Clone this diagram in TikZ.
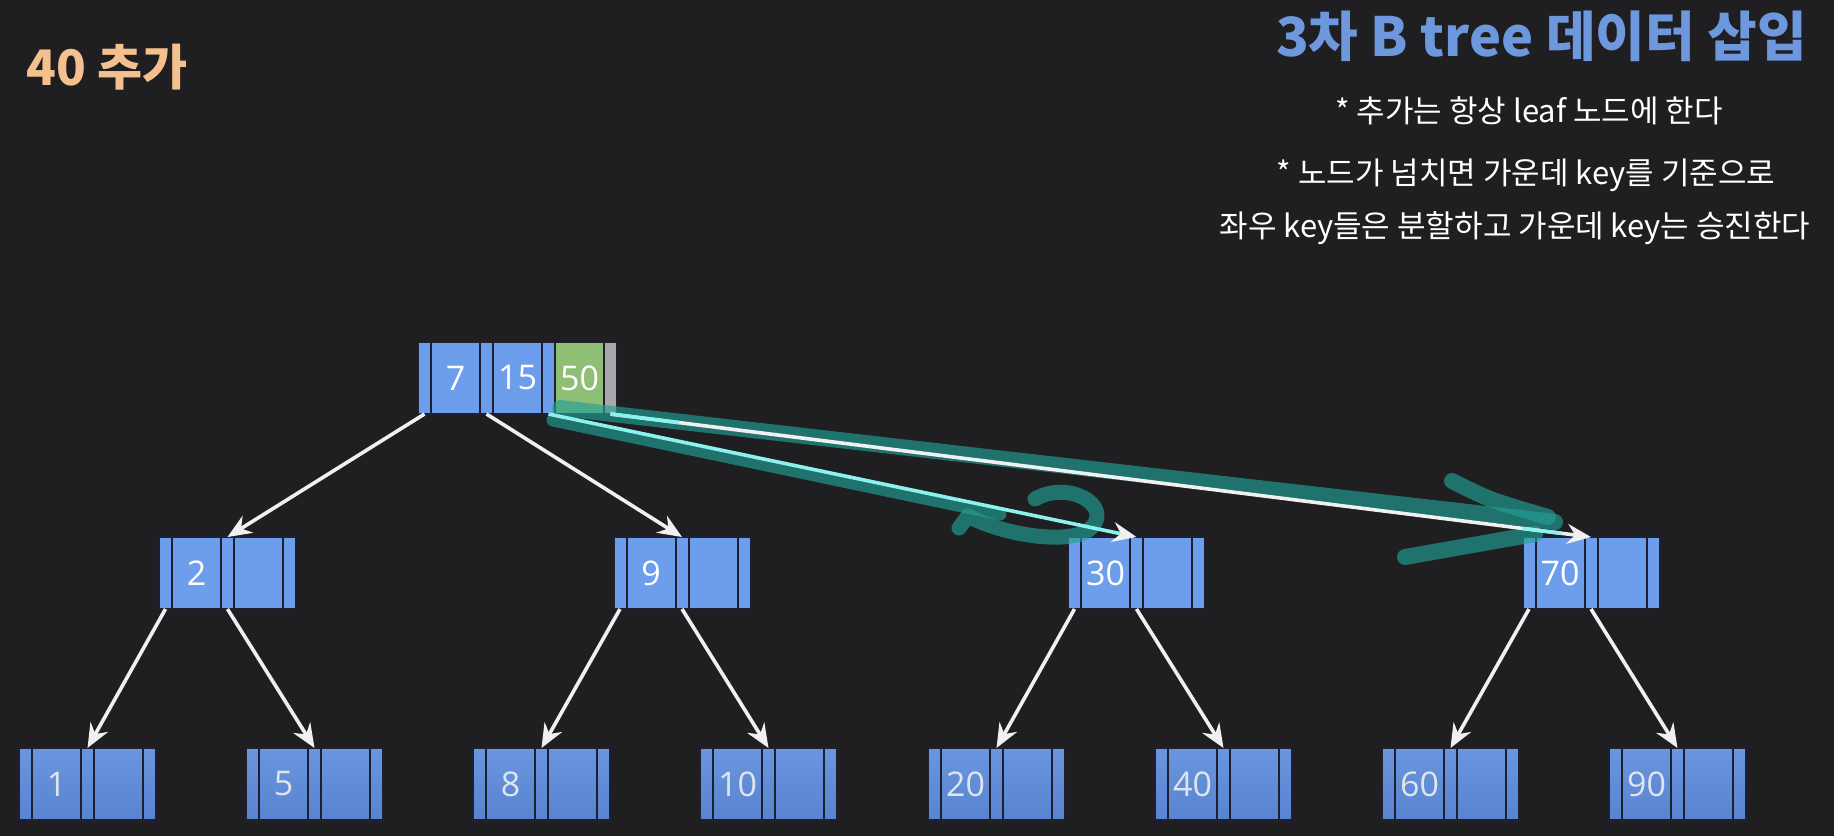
\documentclass[tikz,border=0pt]{standalone}
\usepackage{fontspec}
\setmainfont{Open Sans}
\newfontfamily\kr{Noto Sans CJK KR}
\usetikzlibrary{arrows.meta,calc}
\definecolor{bg}{HTML}{1F1E21}
\definecolor{nodeblue}{HTML}{6D9EEB}
\definecolor{leaftop}{HTML}{6A96DF}
\definecolor{leafbot}{HTML}{5883CF}
\definecolor{celledge}{HTML}{1E2030}
\definecolor{greencell}{HTML}{8FBF74}
\definecolor{graycell}{HTML}{A9A9A9}
\definecolor{tealc}{HTML}{22A096}
\definecolor{cyanl}{HTML}{8CF2EE}
\definecolor{titleblue}{HTML}{6E98DE}
\definecolor{peach}{HTML}{F4C08E}
\definecolor{leaftext}{HTML}{DFE5EE}
\tikzset{
  cellbase/.style={draw=celledge, line width=2pt, inner sep=0pt, outer sep=0pt,
    anchor=north west, minimum height=72pt, text=white,
    font=\fontsize{34}{34}\selectfont},
  ptrcell/.style={cellbase, minimum width=13pt, fill=nodeblue},
  keycell/.style={cellbase, minimum width=49pt, fill=nodeblue},
  leafcell/.style={top color=leaftop, bottom color=leafbot, text=leaftext},
  arr/.style={draw=white!94!black, line width=3.6pt,
    -{Stealth[length=24pt,width=20pt,inset=8pt,color=white!94!black]}},
  cyanseg/.style={draw=cyanl, line width=3.6pt},
  tealstroke/.style={draw=tealc, line width=16pt, line cap=round, line join=round, draw opacity=0.65},
  bodytext/.style={text=white, font=\kr\fontsize{31}{31}\selectfont, inner sep=0pt},
}
\newcommand{\twonode}[5]{%
  \node[ptrcell,#5] (#1-p0) at (#2,#3) {};
  \node[keycell,#5] (#1-k0) at (#2+13,#3) {#4};
  \node[ptrcell,#5] (#1-p1) at (#2+62,#3) {};
  \node[keycell,#5] (#1-k1) at (#2+75,#3) {};
  \node[ptrcell,#5] (#1-p2) at (#2+124,#3) {};
}
\begin{document}
\begin{tikzpicture}[x=1pt,y=-1pt]
\fill[bg] (0,0) rectangle (1834,836);
\useasboundingbox (0,0) rectangle (1834,836);

% texts
\node[anchor=west, text=peach, font=\kr\bfseries\fontsize{49}{49}\selectfont, inner sep=0pt] (add) at (26,67) {40 추가};
\node[anchor=east, text=titleblue, font=\kr\bfseries\fontsize{54}{54}\selectfont, inner sep=0pt] (title) at (1807,36) {3차 B tree 데이터 삽입};
\node[bodytext] (t1) at (1529,111) {* 추가는 항상 leaf 노드에 한다};
\node[bodytext] (t2) at (1526,175) {* 노드가 넘치면 가운데 key를 기준으로};
\node[bodytext] (t3) at (1515,228) {좌우 key들은 분할하고 가운데 key는 승진한다};

% root
\node[ptrcell] (r-p0) at (418,342) {};
\node[keycell] (r-k0) at (431,342) {7};
\node[ptrcell] (r-p1) at (480,342) {};
\node[keycell] (r-k1) at (493,342) {15};
\node[ptrcell] (r-p2) at (542,342) {};
\node[keycell, fill=greencell] (r-k2) at (555,342) {50};
\node[ptrcell, fill=graycell] (r-p3) at (604,342) {};

% level 2
\twonode{n2}{159}{537}{2}{}
\twonode{n9}{613.5}{537}{9}{}
\twonode{n30}{1068}{537}{30}{}
\twonode{n70}{1522.5}{537}{70}{}

% leaves
\twonode{lf1}{19}{748}{1}{leafcell}
\twonode{lf5}{246}{748}{5}{leafcell}
\twonode{lf8}{473}{748}{8}{leafcell}
\twonode{lf10}{700}{748}{10}{leafcell}
\twonode{lf20}{928}{748}{20}{leafcell}
\twonode{lf40}{1155}{748}{40}{leafcell}
\twonode{lf60}{1382}{748}{60}{leafcell}
\twonode{lf90}{1609}{748}{90}{leafcell}

% teal annotation strokes
\draw[tealstroke] (560,408) -- (1555,522);
\draw[tealstroke, line width=13pt] (553,420) -- (1000,514);
\draw[tealstroke, line width=15pt] (1035,499) .. controls (1068,480) and (1112,505) .. (1092,527)
   .. controls (1075,546) and (1005,536) .. (968,516) -- (959,528);
\draw[tealstroke] (1452,481) .. controls (1490,500) .. (1548,517);
\draw[tealstroke] (1405,557) -- (1535,534);

% arrows root -> level 2
\draw[arr] (r-p0.south) -- (n2-p1.north);
\draw[arr] (r-p1.south) -- (n9-p1.north);
\draw[arr, draw=cyanl] (r-p2.south) -- (n30-p1.north);
\draw[arr] (r-p3.south) -- (n70-p1.north);
\draw[cyanseg] ($(r-p3.south)!0!(n70-p1.north)$) -- ($(r-p3.south)!0.07!(n70-p1.north)$);
\draw[cyanseg] ($(r-p3.south)!0.93!(n70-p1.north)$) -- ($(r-p3.south)!0.97!(n70-p1.north)$);

% arrows level 2 -> leaves
\draw[arr] (n2-p0.south) -- (lf1-p1.north);
\draw[arr] (n2-p1.south) -- (lf5-p1.north);
\draw[arr] (n9-p0.south) -- (lf8-p1.north);
\draw[arr] (n9-p1.south) -- (lf10-p1.north);
\draw[arr] (n30-p0.south) -- (lf20-p1.north);
\draw[arr] (n30-p1.south) -- (lf40-p1.north);
\draw[arr] (n70-p0.south) -- (lf60-p1.north);
\draw[arr] (n70-p1.south) -- (lf90-p1.north);
\end{tikzpicture}
\end{document}
